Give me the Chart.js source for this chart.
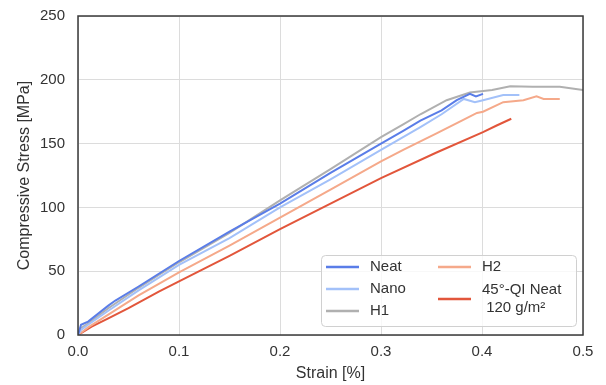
<!DOCTYPE html>
<html lang="en">
<head>
  <meta charset="UTF-8" />
  <title>Compressive Stress vs Strain</title>
  <style>
    body { margin: 0; background: white; }
    canvas { display: block; }
  </style>
</head>
<body>
  <canvas id="stressChart" width="606" height="385"></canvas>

  <script src="https://cdn.jsdelivr.net/npm/chart.js"></script>
  <script>
    // values
    const neatStrain = [0, 0.003, 0.01, 0.03, 0.037, 0.06, 0.08, 0.1, 0.15, 0.2, 0.25, 0.3, 0.322, 0.339, 0.36, 0.375, 0.388, 0.394, 0.401];
    const neatStress = [0, 8, 10.5, 23, 27, 38, 48, 58, 81, 103, 127, 150, 160, 168, 176, 184, 189, 187, 189];

    const nanoStrain = [0, 0.003, 0.01, 0.03, 0.06, 0.08, 0.1, 0.15, 0.2, 0.25, 0.3, 0.339, 0.36, 0.382, 0.393, 0.401, 0.421, 0.437];
    const nanoStress = [0, 4, 8, 19, 35, 45, 55, 76, 100, 122, 145, 163, 173, 185, 182.5, 184, 188, 188];

    const h1Strain = [0, 0.002, 0.01, 0.03, 0.06, 0.08, 0.1, 0.15, 0.2, 0.25, 0.3, 0.322, 0.339, 0.365, 0.388, 0.41, 0.428, 0.45, 0.477, 0.5];
    const h1Stress = [0, 5, 9, 21, 37, 47, 57, 80, 105.5, 130, 155, 165, 173, 184, 190, 192, 195, 194.5, 194.5, 192];

    const h2Strain = [0, 0.005, 0.01, 0.03, 0.06, 0.08, 0.1, 0.15, 0.2, 0.25, 0.3, 0.322, 0.355, 0.38, 0.395, 0.401, 0.421, 0.441, 0.454, 0.461, 0.477];
    const h2Stress = [0, 3, 6, 16, 31, 40, 49, 70, 92, 114, 136, 145, 158, 168, 174, 175, 182.5, 184, 187, 185, 185];

    const qiStrain = [0, 0.0135, 0.03, 0.05, 0.08, 0.1, 0.15, 0.2, 0.25, 0.3, 0.355, 0.401, 0.414, 0.429];
    const qiStress = [0, 6.5, 13, 21, 34, 42, 62, 83, 103, 123, 143, 159, 164, 169.5];

    const seriesLabels = ['Neat', 'Nano', 'H1', 'H2', '45°-QI Neat\n 120 g/m²'];
    const seriesColors = ['#5a7de8', '#a3c1f9', '#b0b0b0', '#f5a98a', '#e2563b'];

    const xTicks = [0, 0.1, 0.2, 0.3, 0.4, 0.5];
    const yTicks = [0, 50, 100, 150, 200, 250];

    function toPoints(xs, ys) {
      return xs.map((x, i) => ({ x: x, y: ys[i] }));
    }

    const allSeries = [
      toPoints(neatStrain, neatStress),
      toPoints(nanoStrain, nanoStress),
      toPoints(h1Strain, h1Stress),
      toPoints(h2Strain, h2Stress),
      toPoints(qiStrain, qiStress)
    ];

    const textColor = '#333333';
    const fontFamily = "'Liberation Sans', Arial, sans-serif";

    // frame around the plot, like matplotlib spines
    const framePlugin = {
      id: 'frame',
      afterDatasetsDraw(chart) {
        const a = chart.chartArea;
        const ctx = chart.ctx;
        ctx.save();
        ctx.strokeStyle = '#3a3a3a';
        ctx.lineWidth = 1.5;
        ctx.strokeRect(a.left, a.top, a.right - a.left, a.bottom - a.top);
        ctx.restore();
      }
    };

    // two column legend in the lower right corner
    const legendPlugin = {
      id: 'boxLegend',
      afterDraw(chart) {
        const a = chart.chartArea;
        const ctx = chart.ctx;
        const boxL = a.right - 262, boxT = a.bottom - 80;
        const boxW = 255, boxH = 71;
        ctx.save();
        ctx.fillStyle = 'rgba(255,255,255,0.8)';
        ctx.strokeStyle = '#d0d0d0';
        ctx.lineWidth = 1;
        ctx.beginPath();
        ctx.roundRect(boxL + 0.5, boxT + 0.5, boxW, boxH, 4);
        ctx.fill();
        ctx.stroke();

        const slots = [
          { col: 0, y: 12 }, { col: 0, y: 34 }, { col: 0, y: 56 },
          { col: 1, y: 12 }, { col: 1, y: 44 }
        ];
        ctx.font = '15px ' + fontFamily;
        ctx.textBaseline = 'middle';
        ctx.fillStyle = textColor;
        chart.data.datasets.forEach((ds, i) => {
          const s = slots[i];
          const lx = boxL + 5 + s.col * 112;
          const ly = boxT + s.y;
          ctx.strokeStyle = ds.borderColor;
          ctx.lineWidth = 2.5;
          ctx.beginPath();
          ctx.moveTo(lx, ly);
          ctx.lineTo(lx + 33, ly);
          ctx.stroke();
          const lines = ds.label.split('\n');
          const start = ly - (lines.length - 1) * 9;
          lines.forEach((t, k) => {
            ctx.fillText(t, lx + 44, start + k * 18);
          });
        });
        ctx.restore();
      }
    };

    new Chart(document.getElementById('stressChart'), {
      type: 'scatter',
      data: {
        datasets: allSeries.map((pts, i) => ({
          label: seriesLabels[i],
          data: pts,
          showLine: true,
          borderColor: seriesColors[i],
          backgroundColor: seriesColors[i],
          borderWidth: 2,
          pointRadius: 0,
          tension: 0
        }))
      },
      options: {
        responsive: false,
        animation: false,
        layout: { padding: { left: 0, top: 16, right: 23, bottom: 0 } },
        plugins: {
          legend: { display: false },
          tooltip: { enabled: false }
        },
        scales: {
          x: {
            type: 'linear',
            min: 0,
            max: 0.5,
            afterBuildTicks: s => { s.ticks = xTicks.map(v => ({ value: v })); },
            afterFit: s => { s.height = 50; s.paddingLeft = 0; s.paddingRight = 0; },
            grid: { color: '#dcdcdc', lineWidth: 1, drawTicks: false },
            border: { display: false },
            ticks: {
              padding: 8,
              color: textColor,
              font: { family: fontFamily, size: 15 },
              callback: v => Number(v).toFixed(1)
            },
            title: {
              display: true,
              text: 'Strain [%]',
              color: textColor,
              font: { family: fontFamily, size: 16 },
              padding: { top: 0, bottom: 2 }
            }
          },
          y: {
            min: 0,
            max: 250,
            afterBuildTicks: s => { s.ticks = yTicks.map(v => ({ value: v })); },
            afterFit: s => { s.width = 78; s.paddingTop = 0; s.paddingBottom = 0; },
            grid: { color: '#dcdcdc', lineWidth: 1, drawTicks: false },
            border: { display: false },
            ticks: {
              padding: 13,
              color: textColor,
              font: { family: fontFamily, size: 15 }
            },
            title: {
              display: true,
              text: 'Compressive Stress [MPa]',
              color: textColor,
              font: { family: fontFamily, size: 16 },
              padding: { top: 15, bottom: 0 }
            }
          }
        }
      },
      plugins: [framePlugin, legendPlugin]
    });
  </script>
</body>
</html>
